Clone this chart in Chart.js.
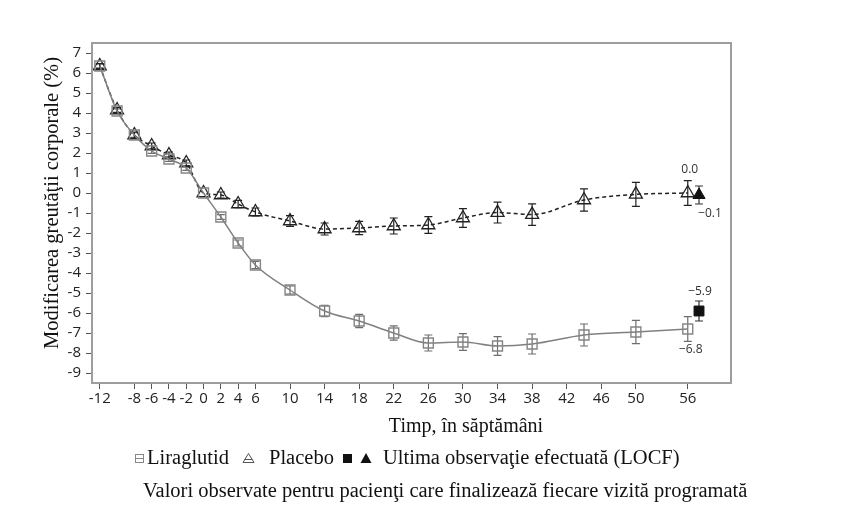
<!DOCTYPE html>
<html>
<head>
<meta charset="utf-8">
<script src="https://cdn.jsdelivr.net/npm/chart.js@4.4.0/dist/chart.umd.min.js"></script>
<style>
html,body{margin:0;padding:0;background:#fff;}
#wrap{width:850px;height:519px;position:relative;}
</style>
</head>
<body>
<div id="wrap"><canvas id="c" width="850" height="519"></canvas></div>
<script>
// ---- data ----
const weeks = [-12,-10,-8,-6,-4,-2,0,2,4,6,10,14,18,22,26,30,34,38,44,50,56];
const liraglutide = [6.35,4.1,2.9,2.1,1.7,1.25,0,-1.2,-2.5,-3.6,-4.85,-5.9,-6.4,-7.0,-7.5,-7.45,-7.65,-7.55,-7.1,-6.95,-6.8];
const liraglutideErr = [0.1,0.1,0.12,0.12,0.12,0.12,0,0.12,0.15,0.18,0.2,0.28,0.33,0.36,0.4,0.42,0.47,0.5,0.55,0.58,0.62];
const placebo = [6.35,4.15,2.9,2.35,1.9,1.5,0,-0.1,-0.55,-0.95,-1.4,-1.8,-1.75,-1.65,-1.6,-1.25,-0.98,-1.08,-0.35,-0.07,0.0];
const placeboErr = [0.12,0.12,0.15,0.15,0.15,0.15,0,0.15,0.18,0.2,0.27,0.3,0.33,0.4,0.42,0.47,0.52,0.54,0.56,0.6,0.62];
const locfWeek = [57.3];
const locfLiraglutide = [-5.9];
const locfLiraglutideErr = [0.5];
const locfPlacebo = [-0.1];
const locfPlaceboErr = [0.45];
const xTickValues = [-12,-8,-6,-4,-2,0,2,4,6,10,14,18,22,26,30,34,38,42,46,50,56];
const yTickValues = [-9,-8,-7,-6,-5,-4,-3,-2,-1,0,1,2,3,4,5,6,7];
const endLabels = ['0.0','\u22120.1','\u22125.9','\u22126.8'];
const seriesNames = ['Liraglutid','Placebo','Ultima observaţie efectuată (LOCF)'];
const yTitle = 'Modificarea greutăţii corporale (%)';
const xTitle = 'Timp, în săptămâni';
const subtitle = 'Valori observate pentru pacienţi care finalizează fiecare vizită programată';

const toPts = (xs, ys) => xs.map((x, i) => ({x: x, y: ys[i]}));

const SERIF = '"Liberation Serif", "Times New Roman", serif';
const SANS = '"Open Sans", "Noto Sans", sans-serif';

const errorBars = {
  id: 'errorBars',
  beforeDatasetsDraw(chart) {
    const ctx = chart.ctx, ys = chart.scales.y;
    chart.data.datasets.forEach((ds, i) => {
      if (!ds.errors) return;
      const meta = chart.getDatasetMeta(i);
      ctx.save();
      ctx.strokeStyle = ds.errorColor;
      ctx.lineWidth = 1.2;
      meta.data.forEach((pt, j) => {
        const e = ds.errors[j];
        if (!e) return;
        const v = ds.data[j].y;
        const t = ys.getPixelForValue(v + e), b = ys.getPixelForValue(v - e);
        ctx.beginPath();
        ctx.moveTo(pt.x, t); ctx.lineTo(pt.x, b);
        ctx.moveTo(pt.x - 4, t); ctx.lineTo(pt.x + 4, t);
        ctx.moveTo(pt.x - 4, b); ctx.lineTo(pt.x + 4, b);
        ctx.stroke();
      });
      ctx.restore();
    });
  }
};

const decor = {
  id: 'decor',
  afterDraw(chart) {
    const ctx = chart.ctx, a = chart.chartArea;
    const xs = chart.scales.x, ys = chart.scales.y;
    ctx.save();
    // frame
    ctx.strokeStyle = '#9e9e9e';
    ctx.lineWidth = 2;
    ctx.strokeRect(a.left, a.top, a.right - a.left, a.bottom - a.top);

    // end value labels
    ctx.fillStyle = '#333';
    ctx.font = '12px ' + SANS;
    ctx.textAlign = 'center';
    ctx.textBaseline = 'middle';
    const last = weeks.length - 1;
    ctx.fillText(endLabels[0], xs.getPixelForValue(weeks[last]) + 2, ys.getPixelForValue(placebo[last]) - 23);
    ctx.fillText(endLabels[1], xs.getPixelForValue(locfWeek[0]) + 11, ys.getPixelForValue(locfPlacebo[0]) + 19);
    ctx.fillText(endLabels[2], xs.getPixelForValue(locfWeek[0]) + 1, ys.getPixelForValue(locfLiraglutide[0]) - 19);
    ctx.fillText(endLabels[3], xs.getPixelForValue(weeks[last]) + 3, ys.getPixelForValue(liraglutide[last]) + 21);

    // axis titles
    ctx.fillStyle = '#111';
    ctx.font = '20.5px ' + SERIF;
    ctx.save();
    ctx.translate(53, 203);
    ctx.rotate(-Math.PI / 2);
    ctx.textAlign = 'center';
    ctx.textBaseline = 'middle';
    ctx.fillText(yTitle, 0, 0);
    ctx.restore();
    ctx.font = '20px ' + SERIF;
    ctx.textAlign = 'center';
    ctx.textBaseline = 'alphabetic';
    ctx.fillText(xTitle, 466, 432);

    // legend
    ctx.font = '20.5px ' + SERIF;
    ctx.textAlign = 'left';
    ctx.fillText(seriesNames[0], 147, 464);
    ctx.fillText(seriesNames[1], 269, 464);
    ctx.fillText(seriesNames[2], 383, 464);
    // icons
    ctx.lineWidth = 1;
    ctx.strokeStyle = '#888';
    ctx.strokeRect(135.5, 454.5, 8, 8);
    ctx.beginPath(); ctx.moveTo(135.5, 458.5); ctx.lineTo(143.5, 458.5); ctx.stroke();
    ctx.strokeStyle = '#555';
    ctx.beginPath(); ctx.moveTo(248.5, 453.5); ctx.lineTo(254, 462.5); ctx.lineTo(243, 462.5); ctx.closePath(); ctx.stroke();
    ctx.beginPath(); ctx.moveTo(244.5, 459.5); ctx.lineTo(252.5, 459.5); ctx.stroke();
    ctx.fillStyle = '#111';
    ctx.fillRect(343, 454, 9, 9);
    ctx.beginPath(); ctx.moveTo(366, 453); ctx.lineTo(371.5, 463); ctx.lineTo(360.5, 463); ctx.closePath(); ctx.fill();

    // subtitle
    ctx.font = '20.5px ' + SERIF;
    ctx.fillText(subtitle, 143, 497);
    ctx.restore();
  }
};

new Chart(document.getElementById('c'), {
  type: 'line',
  data: {
    datasets: [
      {
        label: seriesNames[0],
        data: toPts(weeks, liraglutide),
        errors: liraglutideErr,
        errorColor: '#6e6e6e',
        borderColor: '#808080',
        borderWidth: 1.5,
        cubicInterpolationMode: 'monotone',
        pointStyle: 'rect',
        pointRadius: 7,
        pointBorderWidth: 1.4,
        pointBorderColor: '#858585',
        pointBackgroundColor: 'rgba(0,0,0,0)',
        fill: false
      },
      {
        label: seriesNames[1],
        data: toPts(weeks, placebo),
        errors: placeboErr,
        errorColor: '#222',
        borderColor: '#222',
        borderWidth: 1.5,
        borderDash: [4, 3],
        cubicInterpolationMode: 'monotone',
        pointStyle: 'triangle',
        pointRadius: 7.5,
        pointBorderWidth: 1.3,
        pointBorderColor: '#222',
        pointBackgroundColor: 'rgba(0,0,0,0)',
        fill: false
      },
      {
        label: 'LOCF Liraglutid',
        data: toPts(locfWeek, locfLiraglutide),
        errors: locfLiraglutideErr,
        errorColor: '#333',
        showLine: false,
        pointStyle: 'rect',
        pointRadius: 7,
        pointBorderWidth: 1,
        pointBorderColor: '#111',
        pointBackgroundColor: '#111'
      },
      {
        label: 'LOCF Placebo',
        data: toPts(locfWeek, locfPlacebo),
        errors: locfPlaceboErr,
        errorColor: '#333',
        showLine: false,
        pointStyle: 'triangle',
        pointRadius: 7,
        pointBorderWidth: 1,
        pointBorderColor: '#111',
        pointBackgroundColor: '#111'
      }
    ]
  },
  options: {
    responsive: false,
    animation: false,
    devicePixelRatio: 1,
    layout: { padding: { left: 0, top: 43, right: 119, bottom: 96 } },
    plugins: { legend: { display: false }, tooltip: { enabled: false } },
    scales: {
      x: {
        type: 'linear',
        min: -12.9,
        max: 61,
        afterBuildTicks: s => { s.ticks = xTickValues.map(v => ({ value: v })); },
        afterFit: s => { s.height = 40; },
        ticks: {
          autoSkip: false, maxRotation: 0, minRotation: 0,
          padding: 1,
          color: '#222',
          font: { family: SANS, size: 15 },
          callback: v => String(v)
        },
        grid: { drawOnChartArea: false, drawTicks: true, tickLength: 6, color: '#555', lineWidth: 1 },
        border: { display: false }
      },
      y: {
        min: -9.5,
        max: 7.5,
        afterBuildTicks: s => { s.ticks = yTickValues.map(v => ({ value: v })); },
        afterFit: s => { s.width = 92; },
        ticks: {
          autoSkip: false,
          padding: 5,
          color: '#222',
          font: { family: SANS, size: 15 },
          callback: v => String(v)
        },
        grid: { drawOnChartArea: false, drawTicks: true, tickLength: 6, color: '#555', lineWidth: 1 },
        border: { display: false }
      }
    }
  },
  plugins: [errorBars, decor]
});
</script>
</body>
</html>
